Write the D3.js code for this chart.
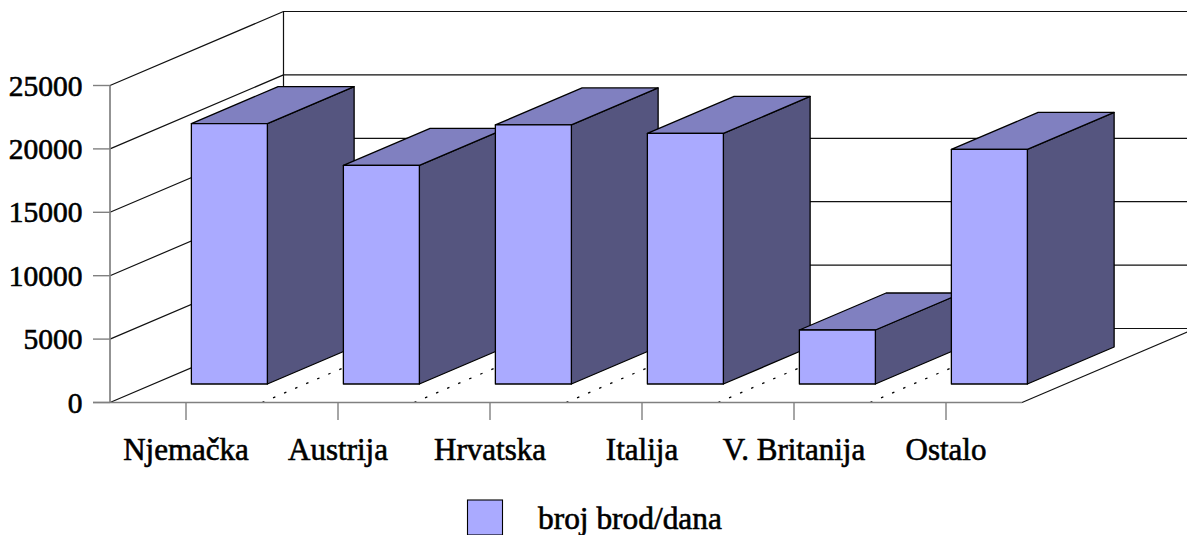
<!DOCTYPE html>
<html>
<head>
<meta charset="utf-8">
<script src="https://cdn.jsdelivr.net/npm/d3@7"></script>
<style>
html,body{margin:0;padding:0;background:#fff}
svg{display:block}
text{font-family:"Liberation Serif",serif;fill:#000;stroke:#000;stroke-width:.6px}
</style>
</head>
<body>
<svg id="c" width="1187" height="535"></svg>
<script>
const categories = ["Njemačka","Austrija","Hrvatska","Italija","V. Britanija","Ostalo"];
const values = [20540,17240,20430,19760,4260,18500];
const yTicks = [0,5000,10000,15000,20000,25000];
const seriesName = "broj brod/dana";

const colFront="#AAAAFF", colTop="#8080C0", colSide="#55557F", axisGray="#808080";
const depthX=173.5, depthY=-74;
const svg=d3.select("#c");
const x=d3.scaleBand().domain(categories).range([110,1022]).paddingInner(0).paddingOuter(0);
const y=d3.scaleLinear().domain([0,25000]).range([402.5,85.5]);
const line=d3.line();
const P=(px,py,t)=>[px+depthX*t,py+depthY*t];
const path=(pts,fill,stroke,w,dash)=>svg.append("path").attr("d",line(pts)+(fill!=="none"?"Z":""))
  .attr("fill",fill).attr("stroke",stroke).attr("stroke-width",w).attr("stroke-dasharray",dash||null).attr("stroke-linejoin","round");

// walls and gridlines
yTicks.forEach(t=>{
  const yy=y(t);
  path([[110,yy],P(110,yy,1),[1187,yy+depthY]],"none","#111",1.2);
});
path([P(110,y(0),1),P(110,y(25000),1)],"none","#111",1.2);
// floor right edge
path([[x.range()[1],y(0)],P(x.range()[1],y(0),1)],"none","#111",1.2);
// floor category separators
categories.slice(1).forEach(c=>{
  path([[x(c),y(0)],P(x(c),y(0),1)],"none","#000",1.3,"2.5 9.5");
});

// y axis
svg.append("g").selectAll("line").data(yTicks).join("line")
  .attr("x1",93).attr("x2",110).attr("y1",d=>y(d)).attr("y2",d=>y(d))
  .attr("stroke",axisGray).attr("stroke-width",1.4);
path([[110,y(0)],[110,y(25000)]],"none",axisGray,1.7);
// x axis
path([[93,y(0)],[x.range()[1],y(0)]],"none",axisGray,1.7);
svg.append("g").selectAll("line").data(categories).join("line")
  .attr("x1",c=>x(c)+x.bandwidth()/2).attr("x2",c=>x(c)+x.bandwidth()/2)
  .attr("y1",y(0)).attr("y2",420).attr("stroke",axisGray).attr("stroke-width",1.4);

// bars
categories.forEach((c,i)=>{
  const w=x.bandwidth()/2, x0=x(c)+w/2;
  const f=(px,v,t)=>P(px,y(v),t);
  const xl=x0, xr=x0+w, v=values[i];
  const a=.25,b=.75;
  path([f(xr,0,a),f(xr,0,b),f(xr,v,b),f(xr,v,a)],colSide,"#000",1.3);
  path([f(xl,v,a),f(xr,v,a),f(xr,v,b),f(xl,v,b)],colTop,"#000",1.3);
  path([f(xl,0,a),f(xr,0,a),f(xr,v,a),f(xl,v,a)],colFront,"#000",1.3);
});

// y labels
svg.append("g").selectAll("text").data(yTicks).join("text")
  .attr("x",82.5).attr("y",d=>y(d)+10).attr("text-anchor","end")
  .style("font-size","29.5px").text(d=>d);
// x labels
svg.append("g").selectAll("text").data(categories).join("text")
  .attr("x",c=>x(c)+x.bandwidth()/2).attr("y",459.5).attr("text-anchor","middle")
  .style("font-size","31px").text(d=>d);
// legend
svg.append("rect").attr("x",467.5).attr("y",500).attr("width",35).attr("height",35)
  .attr("fill",colFront).attr("stroke","#000").attr("stroke-width",1.1);
svg.append("text").attr("x",538).attr("y",529).style("font-size","31.4px").text(seriesName);
</script>
</body>
</html>
